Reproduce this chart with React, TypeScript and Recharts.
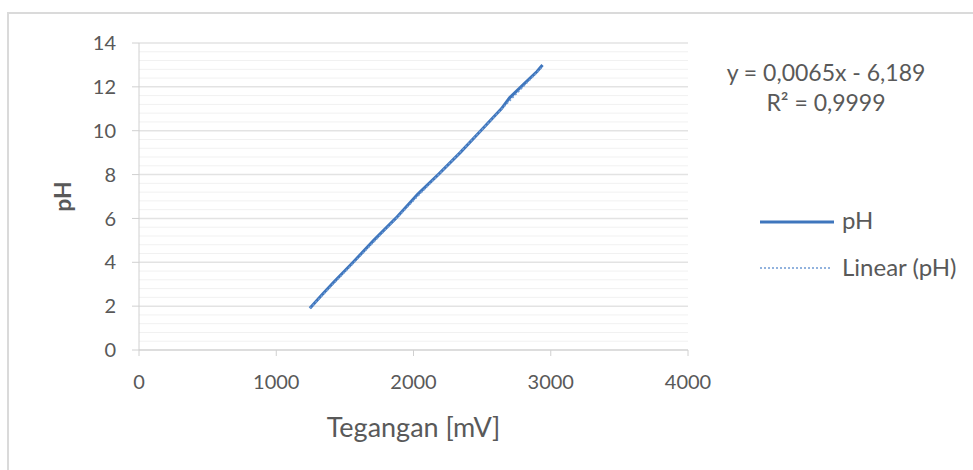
import { LineChart, Line, XAxis, YAxis, CartesianGrid, ReferenceLine, Label } from 'recharts'

const TEXT_GRAY = '#595959'
const GRID_MAJOR = '#e3e3e3'
const GRID_MINOR = '#f1f1f1'
const LINE_BLUE = '#3f76bd'
const FONT = 'Lato, "Open Sans", sans-serif'

// tegangan (mV) vs pH
const voltage = [1245, 1330, 1420, 1560, 1710, 1870, 2030, 2180, 2340, 2490, 2640, 2700, 2800, 2900, 2940]
const phValues = [1.9, 2.5, 3.1, 4.0, 5.0, 6.0, 7.1, 8.0, 9.0, 10.0, 11.0, 11.5, 12.1, 12.7, 13.0]

// trendline linear (y = 0,0065x - 6,189)
const trendVoltage = [1245, 2940]
const trendPh = [1.90, 12.92]

const xTicks = [0, 1000, 2000, 3000, 4000]
const yTicks = [0, 2, 4, 6, 8, 10, 12, 14]
const yMinorTicks = [0.4, 0.8, 1.2, 1.6, 2.4, 2.8, 3.2, 3.6, 4.4, 4.8, 5.2, 5.6, 6.4, 6.8, 7.2, 7.6, 8.4, 8.8, 9.2, 9.6, 10.4, 10.8, 11.2, 11.6, 12.4, 12.8, 13.2, 13.6]

const measured = voltage.map((v, i) => ({ x: v, ph: phValues[i] }))
const trend = trendVoltage.map((v, i) => ({ x: v, ph: trendPh[i] }))

export default function App() {
  return (
    <div style={{ position: 'absolute', left: 0, top: 0, width: 973, height: 470, background: '#fff', fontFamily: FONT }}>
      {/* garis tepi kiri & atas */}
      <div style={{ position: 'absolute', left: 7, top: 12, width: 970, height: 460, borderLeft: '2px solid #dadada', borderTop: '2px solid #dadada' }} />
      <LineChart width={973} height={470} margin={{ top: 43, right: 285, left: 99, bottom: 90 }} style={{ position: 'absolute', left: 0, top: 0 }}>
        <CartesianGrid vertical={false} stroke={GRID_MAJOR} strokeWidth={1.5} />
        {yMinorTicks.map((t) => (
          <ReferenceLine key={t} y={t} stroke={GRID_MINOR} strokeWidth={1} />
        ))}
        <XAxis
          type="number"
          dataKey="x"
          domain={[0, 4000]}
          ticks={xTicks}
          allowDataOverflow
          height={30}
          tick={{ fontSize: 20, fill: TEXT_GRAY, fontFamily: FONT }}
          stroke="#d0d0d0"
          tickSize={6}
          tickMargin={19}
        >
          <Label value="Tegangan [mV]" position="insideBottom" offset={-57} style={{ fontSize: 27, fill: TEXT_GRAY, fontFamily: FONT }} />
        </XAxis>
        <YAxis
          type="number"
          domain={[0, 14]}
          ticks={yTicks}
          width={40}
          tick={{ fontSize: 20, fill: TEXT_GRAY, fontFamily: FONT }}
          stroke="#d0d0d0"
          tickSize={7}
          tickMargin={16}
        >
          <Label value="pH" angle={-90} position="insideLeft" offset={-36} style={{ fontSize: 23, fill: TEXT_GRAY, fontWeight: 'bold', fontFamily: FONT, textAnchor: 'middle' }} />
        </YAxis>
        <Line data={measured} dataKey="ph" stroke={LINE_BLUE} strokeWidth={3} dot={false} isAnimationActive={false} />
        <Line data={trend} dataKey="ph" stroke="#6f9bd4" strokeWidth={1.5} strokeDasharray="2 2" dot={false} isAnimationActive={false} />
      </LineChart>
      {/* persamaan regresi */}
      <div style={{ position: 'absolute', left: 706, top: 57, width: 240, textAlign: 'center', color: TEXT_GRAY, fontSize: 23, lineHeight: '30px' }}>
        <div>y = 0,0065x - 6,189</div>
        <div>R² = 0,9999</div>
      </div>
      {/* legenda */}
      <svg width={973} height={470} style={{ position: 'absolute', left: 0, top: 0, pointerEvents: 'none' }}>
        <line x1={760} y1={222} x2={834} y2={222} stroke={LINE_BLUE} strokeWidth={3} />
        <text x={842} y={229} fill={TEXT_GRAY} fontSize={24} fontFamily={FONT}>pH</text>
        <line x1={760} y1={268} x2={830} y2={268} stroke="#6f9bd4" strokeWidth={1.5} strokeDasharray="2 2" />
        <text x={842} y={276} fill={TEXT_GRAY} fontSize={24} fontFamily={FONT}>Linear (pH)</text>
      </svg>
    </div>
  )
}
